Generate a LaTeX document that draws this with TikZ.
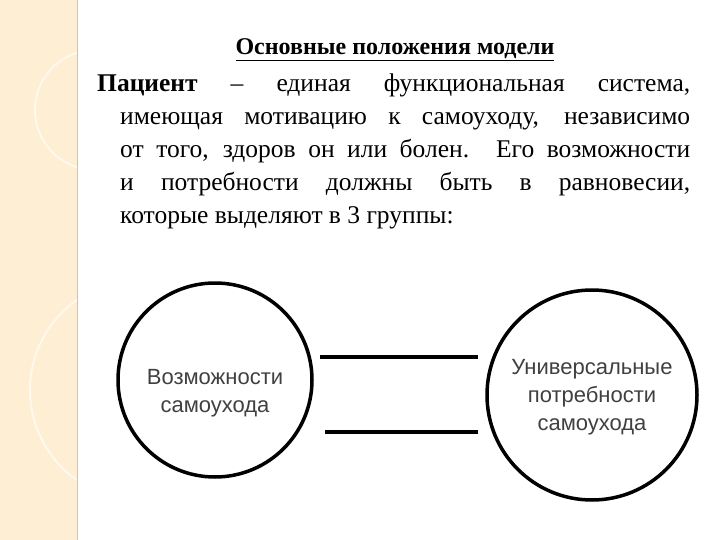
\documentclass[tikz,border=0pt]{standalone}
\usepackage{fontspec}
\setmainfont{Liberation Serif}
\newfontfamily\circfont{Liberation Sans}
\begin{document}
\begin{tikzpicture}[x=1pt,y=-1pt,
  circ/.style={draw=black,line width=3.5pt,circle},
  ctext/.style={font=\circfont\fontsize{22}{28}\selectfont,text=black!75,align=center},
  link/.style={line width=3.5pt}]
\useasboundingbox (0,0) rectangle (720,540);
\fill[white] (0,0) rectangle (720,540);
\fill[yellow!20!orange!15!white] (0,0) rectangle (77,540);
\draw[white,line width=2pt,opacity=0.6] (95,110) circle (60);
\draw[white,line width=2pt,opacity=0.6] (140,390) circle (110);
\draw[brown!50,line width=1pt] (77,0) -- (77,540);
\node[anchor=center,inner sep=0pt] (title) at (395,50) {\fontsize{24}{28}\selectfont\bfseries\underline{Основные положения модели}};
\node[anchor=north west,inner sep=0pt] (para) at (97,74) {\parbox{593pt}{\fontsize{25.5}{33}\selectfont\hangindent=23pt\hangafter=1\noindent
\textbf{Пациент} – единая функциональная система,\linebreak
имеющая мотивацию к самоуходу, независимо\linebreak
от того, здоров он или болен. Его возможности\linebreak
и потребности должны быть в равновесии,\linebreak
которые выделяют в 3 группы:}};
\node[circ,minimum size=194pt] (left) at (215,380) {};
\node[ctext] (lt) at (215,393) {Возможности\\самоухода};
\node[circ,minimum size=210pt] (right) at (592,395) {};
\node[ctext] (rt) at (592,397) {Универсальные\\потребности\\самоухода};
\coordinate (a1) at (320,357); \coordinate (a2) at (478,357);
\coordinate (b1) at (325,432); \coordinate (b2) at (478,432);
\draw[link] (a1) -- (a2);
\draw[link] (b1) -- (b2);
\end{tikzpicture}
\end{document}
